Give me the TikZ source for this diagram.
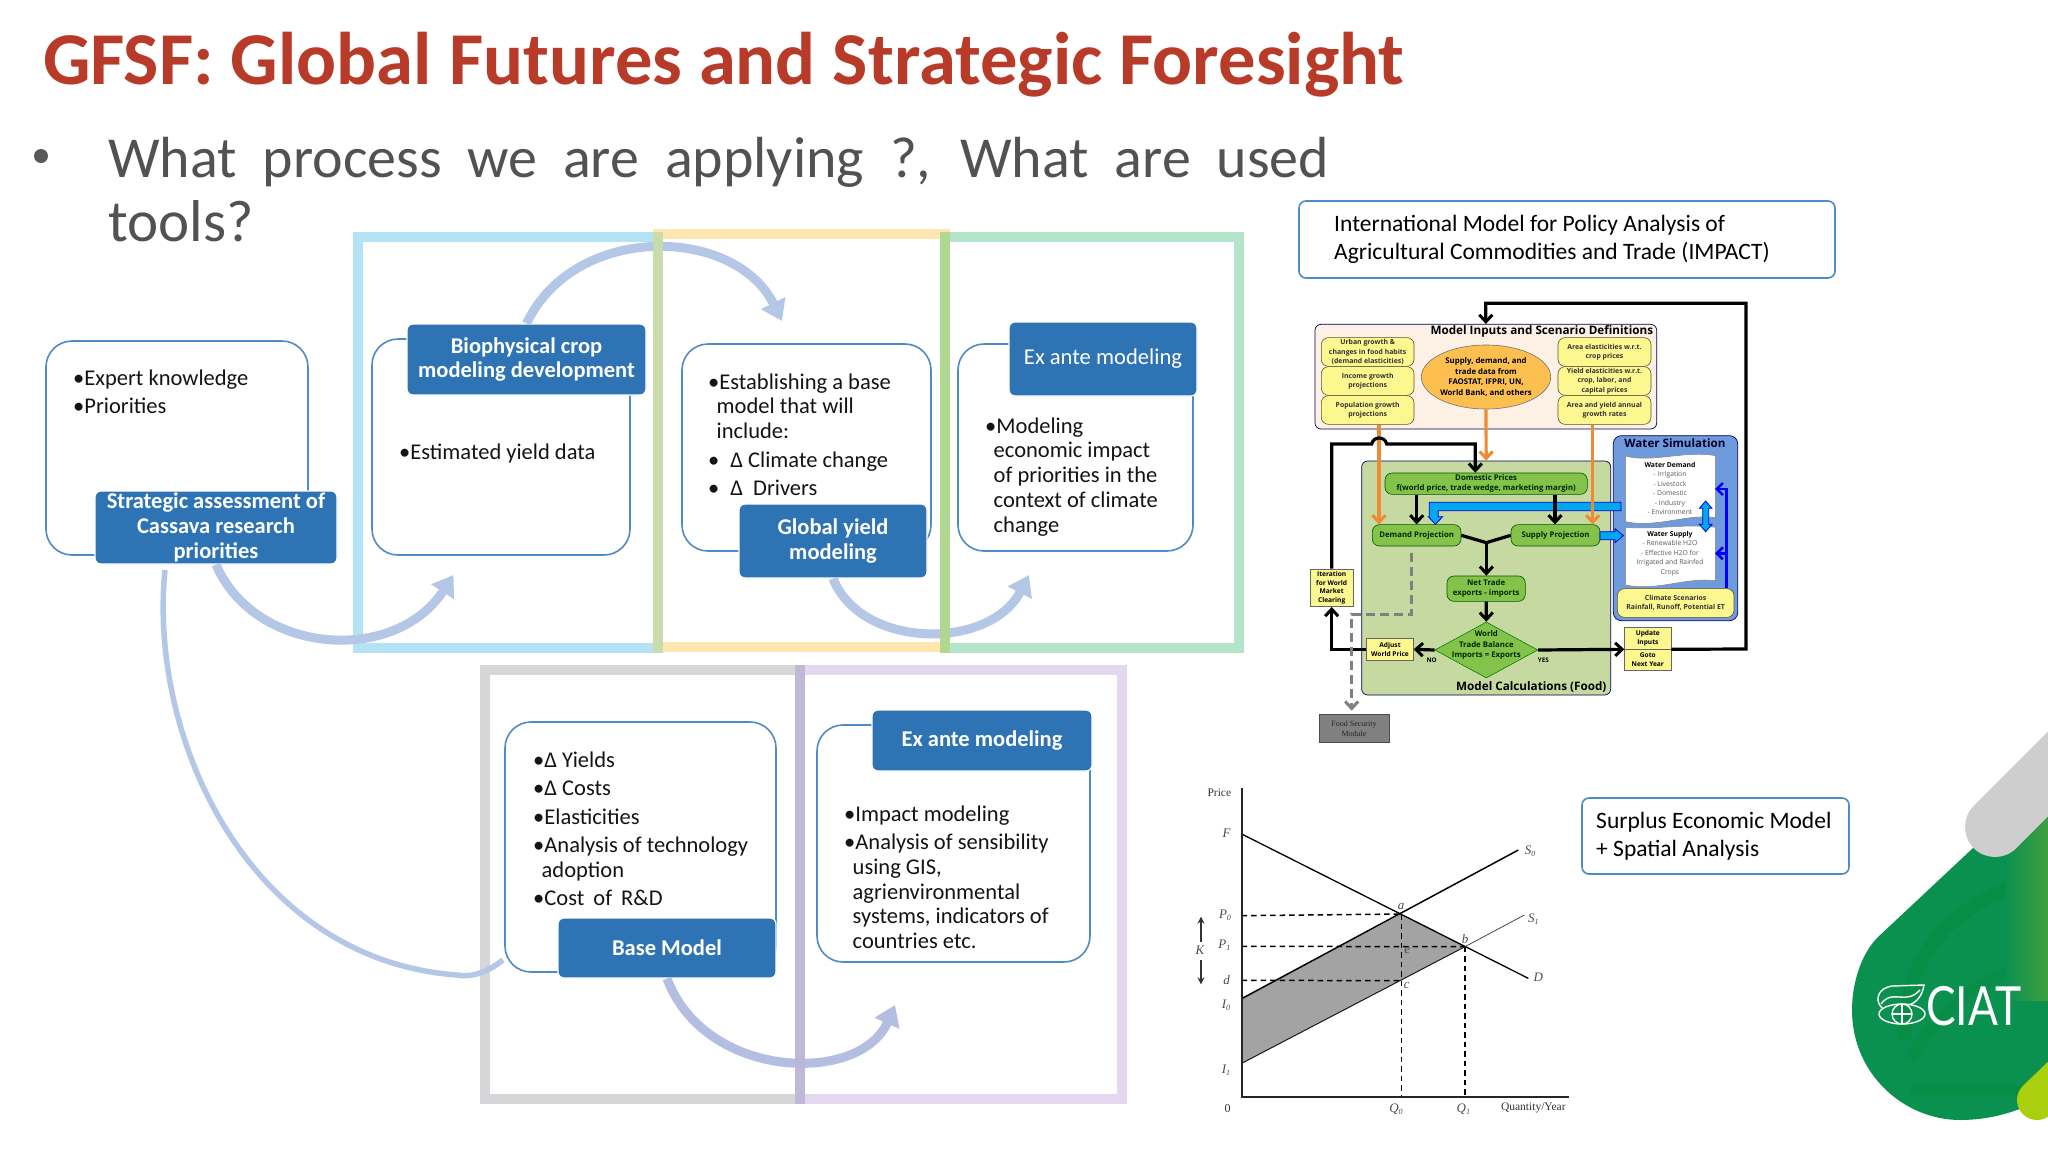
\documentclass[tikz,border=0pt]{standalone}
\usepackage{fontspec}
\setmainfont{Carlito}
\newfontfamily\impf{Open Sans}
\newfontfamily\chf{Liberation Serif}
\usetikzlibrary{arrows.meta,shapes.geometric,calc}
\definecolor{bluebox}{HTML}{2E74B5}
\definecolor{lineblue}{HTML}{4F8BC4}
\definecolor{arrowblue}{HTML}{B4C7E7}
\definecolor{arrowviolet}{HTML}{B4BEE0}
\definecolor{frameblue}{HTML}{B5E3F6}
\definecolor{frameyellow}{HTML}{FDE7AE}
\definecolor{framegreen}{HTML}{B4E4C9}
\definecolor{framegray}{HTML}{D6D6D8}
\definecolor{framepurple}{HTML}{E3D8F0}
\definecolor{ybox}{HTML}{FCF78E}
\definecolor{gbox}{HTML}{84C34A}
\definecolor{ciat}{HTML}{0A9150}
\definecolor{titlered}{HTML}{B83A28}
\definecolor{gpanel}{HTML}{C5D9A0}
\definecolor{wpanel}{HTML}{6F9BDC}
\definecolor{ipanel}{HTML}{FDF1E6}
\definecolor{ellfill}{HTML}{FDBF4F}
\definecolor{orgline}{HTML}{ED8B35}
\definecolor{fatfill}{HTML}{00A8F0}
\definecolor{fatline}{HTML}{0000D0}
\newcommand{\pn}[7]{\pgfmathsetmacro\zcx{(#3+#5)/2}\pgfmathsetmacro\zcy{(#4+#6)/2}\pgfmathsetmacro\zw{#5-#3}\pgfmathsetmacro\zh{#6-#4}\node[#2,minimum width=\zw pt,minimum height=\zh pt,inner sep=0pt](#1) at (\zcx,\zcy){#7};}
\newcommand{\zn}[7]{\pgfmathsetmacro\zcx{(#3+#5)/2}\pgfmathsetmacro\zcy{(#4+#6)/2}\pgfmathsetmacro\zw{(#5-#3)/3}\pgfmathsetmacro\zh{(#6-#4)/3}\node[#2,minimum width=\zw pt,minimum height=\zh pt,inner sep=0pt](#1) at (\zcx,\zcy){#7};}
\newcommand{\fl}{\rule{0pt}{17pt}}
\newcommand{\ind}{\hspace*{8.5pt}}
\newcommand{\lsub}[2]{\textit{#1}\raisebox{-2pt}{\fontsize{8}{8}\selectfont #2}}
\tikzset{
 frameline/.style={line width=10pt,line join=miter},
 roundbox/.style={draw=lineblue,line width=1.6pt,rounded corners=26pt,rectangle,fill=white},
 titlebox/.style={draw=white,line width=1.2pt,fill=bluebox,rounded corners=6pt,rectangle,text=white,align=center,font=\fontsize{22.5}{24.8}\selectfont\bfseries},
 titlelight/.style={titlebox,font=\fontsize{22.6}{24.8}\selectfont},
 body/.style={anchor=north west,inner sep=0pt,align=left,text=black!92,font=\fontsize{22.5}{24.7}\selectfont},
 curved/.style={draw=arrowblue,line width=9pt,-{Triangle[length=20pt,width=26pt]}},
 infobox/.style={draw=lineblue,line width=1.6pt,rounded corners=7pt,rectangle,fill=white},
 info/.style={anchor=north west,inner sep=0pt,align=left,text=black,font=\fontsize{23.5}{28.4}\selectfont},
 panel/.style={draw=black!65!blue,line width=.7pt,rectangle,rounded corners=6pt},
 yb/.style={draw=black!50!olive,line width=.6pt,fill=ybox,rectangle,rounded corners=7pt,align=center,font=\impf\fontsize{6.9}{9.5}\selectfont\bfseries,text=black!80},
 yrect/.style={draw=black!60,line width=.6pt,fill=ybox,rectangle,align=center,font=\impf\fontsize{6.6}{8.5}\selectfont\bfseries},
 gb/.style={draw=black!45!green!60!black,line width=.6pt,fill=gbox,rectangle,rounded corners=7pt,align=center,font=\impf\fontsize{7.8}{10.4}\selectfont\bfseries,text=black!85!green},
 blk/.style={draw=black,line width=3.2pt,-{Straight Barb[length=7pt,width=13pt,line width=3pt]}},
 blkp/.style={draw=black,line width=3.2pt},
 org/.style={draw=orgline,line width=3.2pt,-{Straight Barb[length=7pt,width=13pt,line width=3pt]}},
 blu/.style={draw=blue,line width=2.7pt,-{Straight Barb[length=6pt,width=12pt,line width=2.6pt]}},
 fatb/.style={fill=fatfill,draw=fatline,line width=.8pt},
 grd/.style={draw=black!50,line width=3pt,dash pattern=on 9pt off 5pt},
 doc/.style={fill=white,draw=black!50,line width=.5pt},
 chl/.style={inner sep=0pt,font=\chf\fontsize{13}{13}\selectfont\itshape,text=black!70},
 chlu/.style={inner sep=0pt,font=\chf\fontsize{11.5}{12}\selectfont,text=black!80},
 chd/.style={draw=black,line width=1.5pt,dash pattern=on 5.5pt off 4pt},
}
\begin{document}
\begin{tikzpicture}[x=1pt,y=-1pt]
\useasboundingbox (0,0) rectangle (2048,1152);
\fill[white] (0,0) rectangle (2048,1152);
% title
\node[anchor=base west,inner sep=0pt,text=titlered,font=\fontsize{74.6}{80}\selectfont\bfseries] (title) at (43,84) {GFSF: Global Futures and Strategic Foresight};
\fill[black!65] (41,156) circle (7);
\node[anchor=base west,inner sep=0pt,text=black!68,font=\fontsize{58}{64}\selectfont] (q1) at (108,177) {\makebox[1221pt][s]{What process we are applying ?, What are used}};
\node[anchor=base west,inner sep=0pt,text=black!68,font=\fontsize{59}{64}\selectfont] (q2) at (108,241) {tools?};
% frames
\draw[frameline,frameblue] (357.5,237) rectangle (658,648);
\draw[frameline,frameyellow] (658,234) rectangle (945,647);
\draw[frameline,framegreen] (945,237) rectangle (1239,648);
\draw[frameline,framegray] (484.5,670) rectangle (800,1099);
\draw[frameline,framepurple] (800,670) rectangle (1122,1099);
% boxes
\pn{b1}{roundbox}{46}{341}{308}{555}{}
\pn{t1}{titlebox}{95}{491}{337}{564}{Strategic assessment of\\Cassava research\\priorities}
\pn{b2}{roundbox}{372}{339}{630}{555}{}
\pn{t2}{titlebox}{407}{324}{646}{395}{Biophysical crop\\modeling development}
\pn{b3}{roundbox}{682}{344}{931}{551}{}
\pn{t3}{titlebox}{739}{504}{927}{578}{Global yield\\modeling}
\pn{b4}{roundbox}{958}{344}{1193}{551}{}
\pn{t4}{titlelight}{1009}{322}{1197}{396}{Ex ante modeling}
\pn{b5}{roundbox}{505}{722}{776}{972}{}
\pn{t5}{titlebox}{558}{918}{776}{978}{Base Model}
\pn{b6}{roundbox}{817}{725}{1090}{962}{}
\pn{t6}{titlebox}{872}{710}{1092}{771}{Ex ante modeling}
% body texts
\node[body] (x1) at (73,368) {\fl •Expert knowledge\\[3.8pt]•Priorities};
\node[body] (x2) at (399,442) {\fl •Estimated yield data};
\node[body] (x3) at (708,372) {\fl •Establishing a base\\\ind model that will\\\ind include:\\[3.8pt]•\hspace*{11pt}Δ Climate change\\[3.8pt]•\hspace*{11pt}Δ\hspace*{5pt} Drivers};
\node[body] (x4) at (985,416) {\fl •Modeling\\\ind economic impact\\\ind of priorities in the\\\ind context of climate\\\ind change};
\node[body] (x5) at (533,750) {\fl •Δ Yields\\[3.8pt]•Δ Costs\\[3.8pt]•Elasticities\\[3.8pt]•Analysis of technology\\\ind adoption\\[3.8pt]•Cost\hspace*{4pt} of\hspace*{4pt} R\&D};
\node[body] (x6) at (844,804) {\fl •Impact modeling\\[3.8pt]•Analysis of sensibility\\\ind using GIS,\\\ind agrienvironmental\\\ind systems, indicators of\\\ind countries etc.};
% curved arrows
\coordinate (a1e) at (453.5,575);
\coordinate (a2e) at (782,321);
\coordinate (a3e) at (1029,575);
\coordinate (a5e) at (895,1005);
\coordinate (a4s) at (165,570);
\coordinate (a4m) at (457,975);
\coordinate (a4e) at (503,960);
\draw[curved] (t1.south) .. controls (255,655) and (395,665) .. (a1e);
\draw[curved] (t2.north) .. controls (575,222) and (735,226) .. (a2e);
\draw[curved] (t3.south) .. controls (862,650) and (990,650) .. (a3e);
\draw[curved,draw=arrowviolet] (t5.south) .. controls (705,1080) and (860,1085) .. (a5e);
\draw[draw=arrowblue,line width=5.5pt] (a4s) .. controls (148,740) and (250,960) .. (a4m) .. controls (475,978) and (490,970) .. (a4e);
% frame overlaps
\definecolor{ovA}{HTML}{C6DCAB}\definecolor{ovB}{HTML}{B1D78C}\definecolor{ovC}{HTML}{BDB4D6}
\fill[fill=ovA,opacity=.92] (653,232) rectangle (663,653);
\fill[fill=ovB,opacity=.92] (940,232) rectangle (950,653);
\fill[fill=ovC,opacity=.88] (795,665) rectangle (805,1104);
% info boxes
\pn{ib1}{infobox}{1299}{201}{1835}{278}{}
\node[info] (it1) at (1334,213) {\rule{0pt}{18pt}International Model for Policy Analysis of\\Agricultural Commodities and Trade (IMPACT)};
\pn{ib2}{infobox}{1582}{798}{1849}{874}{}
\node[info] (it2) at (1596,810) {\rule{0pt}{18pt}Surplus Economic Model\\+ Spatial Analysis};
% IMPACT diagram
\begin{scope}[shift={(1290,290)},x=.33333pt,y=-.33333pt]
\zn{gp}{panel,fill=gpanel,rounded corners=6pt}{215}{513}{962}{1215}{}
\zn{wp}{panel,fill=wpanel,rounded corners=8pt}{970}{437}{1343}{992}{}
\zn{inp}{panel,fill=ipanel}{75}{103}{1100}{417}{}
\node[inner sep=0pt,anchor=east,font=\impf\fontsize{11.7}{12}\selectfont\bfseries] (inpt) at (1090,125) {Model Inputs and Scenario Definitions};
\zn{l1}{yb}{94}{143}{372}{229}{Urban growth \&\\changes in food habits\\(demand elasticities)}
\zn{l2}{yb}{94}{230}{372}{316}{Income growth\\projections}
\zn{l3}{yb}{94}{317}{372}{403}{Population growth\\projections}
\zn{r1}{yb}{804}{143}{1083}{229}{Area elasticities w.r.t.\\crop prices}
\zn{r2}{yb}{804}{230}{1083}{316}{Yield elasticities w.r.t.\\crop, labor, and\\capital prices}
\zn{r3}{yb}{804}{317}{1083}{403}{Area and yield annual\\growth rates}
\node[ellipse,draw=black!55,line width=.6pt,fill=ellfill,minimum width=128pt,minimum height=64pt,inner sep=0pt,align=center,font=\impf\fontsize{7.8}{10.4}\selectfont\bfseries] (ell) at (588,261) {Supply, demand, and\\trade data from\\FAOSTAT, IFPRI, UN,\\World Bank, and others};
\node[inner sep=0pt,anchor=east,font=\impf\fontsize{11.7}{12}\selectfont\bfseries] (gpt) at (950,1192) {Model Calculations (Food)};
\zn{dom}{gb}{285}{549}{892}{613}{Domestic Prices\\f(world price, trade wedge, marketing margin)}
\zn{dem}{gb}{247}{704}{513}{768}{Demand Projection}
\zn{sup}{gb}{663}{704}{930}{768}{Supply Projection}
\zn{net}{gb}{471}{858}{706}{934}{Net Trade\\exports - imports}
\node[diamond,aspect=1.84,draw=black!50!green,line width=.6pt,fill=gbox,minimum width=103pt,minimum height=56pt,inner sep=0pt,align=center,font=\impf\fontsize{7.8}{10.4}\selectfont\bfseries,text=black!85!green] (dia) at (589,1080) {};
\node[inner sep=0pt,align=center,font=\impf\fontsize{7.8}{10.6}\selectfont\bfseries,text=black!85!green] (diat) at (589,1065) {World\\Trade Balance\\Imports = Exports};
\zn{adj}{yrect}{230}{1046}{370}{1110}{Adjust\\World Price}
\zn{ite}{yrect}{60}{837}{190}{950}{Iteration\\for World\\Market\\Clearing}
\zn{upd}{yrect}{1004}{1013}{1143}{1077}{Update\\Inputs}
\zn{got}{yrect}{1004}{1077}{1143}{1142}{Goto\\Next Year}
\zn{fsm}{draw=black!70,line width=.7pt,fill=black!50,rectangle,align=center,font=\chf\fontsize{8}{10.4}\selectfont,text=black!85}{87}{1273}{297}{1358}{Food Security\\Module}
\node[inner sep=0pt,font=\impf\fontsize{11.6}{12}\selectfont\bfseries,text=black!85!blue] (wpt) at (1155,458) {Water Simulation};
\draw[doc] (1007,498) .. controls (1080,520) and (1190,480) .. (1276,497) -- (1276,683) .. controls (1190,670) and (1100,715) .. (1007,695) -- cycle;
\draw[doc] (1007,712) .. controls (1090,720) and (1190,700) .. (1276,712) -- (1276,872) .. controls (1190,860) and (1100,905) .. (1007,885) -- cycle;
\node[inner sep=0pt,align=center,text=black!65,font=\impf\fontsize{6.8}{9.55}\selectfont] (wdt) at (1140,595) {\textcolor{black}{\bfseries Water Demand}\\- Irrigation\\- Livestock\\- Domestic\\- Industry\\- Environment};
\node[inner sep=0pt,align=center,text=black!65,font=\impf\fontsize{6.8}{9.55}\selectfont] (wst) at (1140,790) {\textcolor{black}{\bfseries Water Supply}\\- Renewable H2O\\- Effective H2O for\\Irrigated and Rainfed\\Crops};
\zn{cli}{yb}{982}{896}{1332}{982}{Climate Scenarios\\Rainfall, Runoff, Potential ET}
% fat arrows
\filldraw[fatb] (993,637) -- (418,637) -- (418,680) -- (415,680) -- (436,703) -- (458,680) -- (445,680) -- (445,662) -- (993,662) -- cycle;
\filldraw[fatb] (930,725) -- (975,725) -- (975,716) -- (1000,737) -- (975,758) -- (975,749) -- (930,749) -- cycle;
\filldraw[fatb] (1247,633) -- (1266,655) -- (1256,655) -- (1256,703) -- (1266,703) -- (1247,725) -- (1228,703) -- (1238,703) -- (1238,655) -- (1228,655) -- cycle;
% connectors
\coordinate (lpA) at (1368,1077);
\coordinate (lpB) at (1368,40);
\coordinate (lpC) at (587.5,40);
\draw[blk] (upd.south east) -- (lpA) -- (lpB) -- (lpC) -- (inp.north);
\coordinate (oL) at (267,500);
\coordinate (oR) at (908,500);
\draw[org] (oL |- l3.south) -- (oL |- dem.north);
\draw[org] (ell.south) -- (gp.north);
\draw[org] (oR |- r3.south) -- (oR |- sup.north);
\coordinate (hopA) at (125,462);
\coordinate (hopB) at (245,462);
\coordinate (hopC) at (290,462);
\coordinate (hopD) at (556,462);
\draw[blk] (ite.north) -- (hopA) -- (hopB) .. controls (250,438) and (285,438) .. (hopC) -- (hopD) -- (hopD |- dom.north);
\coordinate (dL) at (380,660);
\coordinate (dR) at (795,660);
\draw[blk] (dL |- dom.south) -- (dL |- dem.north);
\draw[blk] (dR |- dom.south) -- (dR |- sup.north);
\coordinate (yJ) at (589,758);
\draw[blkp] (dem.east) -- (yJ);
\draw[blkp] (sup.west) -- (yJ);
\draw[blk] (yJ) -- (yJ |- net.north);
\draw[blk] (net.south) -- (dia.north);
\draw[blk] (dia.west) -- (adj.east);
\coordinate (iC) at (125,1078);
\draw[blk] (adj.west) -- (iC) -- (ite.south);
\draw[blk] (dia.east) -- (upd.south west);
\node[inner sep=0pt,font=\impf\fontsize{6.3}{7}\selectfont\bfseries] (no) at (425,1110) {NO};
\node[inner sep=0pt,font=\impf\fontsize{6.3}{7}\selectfont\bfseries] (yes) at (760,1110) {YES};
\coordinate (gA) at (365,790);
\coordinate (gB) at (365,973);
\coordinate (gC) at (185,973);
\coordinate (gD) at (185,1262);
\draw[grd,-{Straight Barb[length=7pt,width=13pt,line width=3pt]}] (gA) -- (gB) -- (gC) -- (gD);
\coordinate (bT) at (1310,597);
\coordinate (bM) at (1310,790);
\coordinate (bTe) at (1275,597);
\coordinate (bMe) at (1275,790);
\draw[blu] (bT |- cli.north) -- (bT) -- (bTe);
\draw[blu] (bM) -- (bMe);
\end{scope}
% surplus chart
\begin{scope}[shift={(1190,770)},x=.33333pt,y=-.33333pt]
\coordinate (o) at (155,980);
\coordinate (f) at (155,192);
\coordinate (dd) at (1015,625);
\coordinate (s0a) at (155,686);
\coordinate (s0b) at (985,240);
\coordinate (s1a) at (155,880);
\coordinate (s1b) at (1003,435);
\coordinate (pa) at (635,432);
\coordinate (pb) at (825,530);
\coordinate (pc) at (635,632);
\fill[fill=black!36] (s0a) -- (pa) -- (pb) -- (s1a) -- cycle;
\draw[chd] (155,437) -- (pa);
\draw[chd] (155,529) -- (pb);
\draw[chd] (155,631) -- (pc);
\draw[chd] (pa) -- (635,980);
\draw[chd] (pb) -- (825,980);
\draw[black,line width=1.3pt] (f) -- (dd);
\draw[black,line width=1.5pt] (s0a) -- (s0b);
\draw[black!90,line width=1pt] (s1a) -- (pb);
\draw[black!80,line width=.7pt] (pb) -- (s1b);
\draw[black!85,line width=1.7pt] (155,55) -- (o) -- (1137,980);
\draw[black!80,line width=1.1pt,-{Stealth[length=7pt,width=7pt]}] (33,515) -- (33,440);
\draw[black!80,line width=1.1pt,-{Stealth[length=7pt,width=7pt]}] (33,570) -- (33,643);
\node[chlu] (c1) at (88,68) {Price};
\node[chl] (c2) at (110,190) {F};
\node[chl] (c3) at (105,435) {\lsub{P}{0}};
\node[chl] (c4) at (103,525) {\lsub{P}{1}};
\node[chl] (c5) at (110,630) {d};
\node[chl] (c6) at (108,705) {\lsub{I}{0}};
\node[chl] (c7) at (108,900) {\lsub{I}{1}};
\node[chl] (c8) at (30,540) {K};
\node[chlu,font=\chf\fontsize{12}{12}\selectfont] (c9) at (113,1015) {0};
\node[chl] (c10) at (618,1018) {\lsub{Q}{0}};
\node[chl] (c11) at (820,1018) {\lsub{Q}{1}};
\node[chlu] (c12) at (1030,1015) {Quantity/Year};
\node[chl] (c13) at (1020,243) {\lsub{S}{0}};
\node[chl] (c14) at (1030,448) {\lsub{S}{1}};
\node[chl] (c15) at (1045,622) {D};
\node[chl] (c16) at (633,410) {a};
\node[chl] (c17) at (825,508) {b};
\node[chl] (c18) at (652,542) {e};
\node[chl] (c19) at (650,646) {c};
\end{scope}
% CIAT logo
\begin{scope}
\clip (1800,700) rectangle (2048,1152);
\path[clip] (2080,742) -- (1973,848) -- (1878,937) .. controls (1860,955) and (1852,985) .. (1852,1010) .. controls (1852,1075) and (1905,1120) .. (1960,1120) .. controls (1990,1120) and (2020,1112) .. (2048,1095) -- (2080,1095) -- cycle;
\fill[ciat] (1840,730) rectangle (2060,1130);
\draw[green!45!black!60!ciat,line width=14pt,opacity=.18] (1905,1040) .. controls (1900,930) and (1990,885) .. (2060,875);
\draw[green!45!black!60!ciat,line width=12pt,opacity=.15] (1910,1060) .. controls (1950,990) and (2010,965) .. (2060,955);
\draw[green!45!black!60!ciat,line width=10pt,opacity=.2] (1910,1090) -- (2040,1090);
\shade[left color=ciat,right color=green!50!black!75] (2005,730) rectangle (2048,1000);
\end{scope}
\begin{scope}
\clip (1800,700) rectangle (2048,1152);
\draw[draw=black!10!gray!35,line width=60pt,line cap=round] (1995,827) -- (2110,712);
\draw[draw=lime!60!olive!95!white,line width=40pt,line cap=round] (2037,1100) -- (2110,1030);
\end{scope}
\node[inner sep=0pt,anchor=base west,text=white,font=\fontspec{Lato}\fontsize{54}{54}\selectfont] (ciatt) at (1926,1025) {\scalebox{.82}[1]{CIAT}};
\begin{scope}[white,line width=1.4pt]
\draw (1902,1014) ellipse (23 and 10);
\draw (1902,1014) circle (10);
\draw (1892,1014) -- (1912,1014) (1902,1004) -- (1902,1024);
\draw (1882,1008) .. controls (1874,1000) and (1878,988) .. (1892,986) -- (1924,985) .. controls (1922,998) and (1914,1004) .. (1908,1005);
\draw (1881,1004) .. controls (1893,988) and (1905,1006) .. (1920,990);
\end{scope}
\end{tikzpicture}
\end{document}
